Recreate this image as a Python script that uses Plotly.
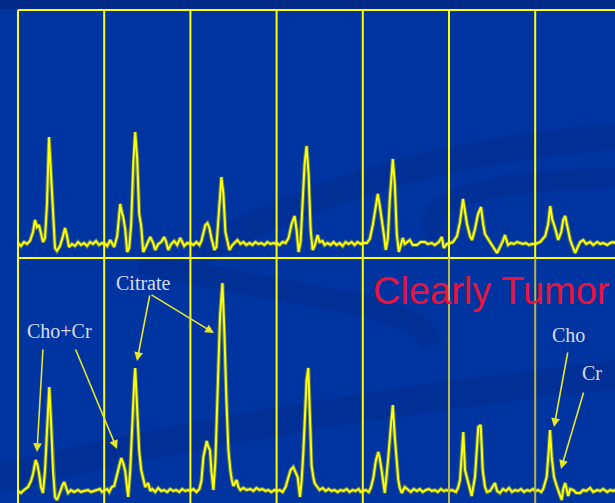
import plotly.graph_objects as go

# ---------------- data ----------------
# Each spectrum: (channel within voxel, amplitude above baseline)
TOP_C0 = [(0,1),(3,-2),(6,2),(9,0),(12,3),(15,12),(17,24),(19,17),(21,19),(23,9),(25,2),(27,6),(29,40),(31,107),(33,70),(35,25),(37,-4),(39,-7),(42,-2),(45,8),(47,16),(49,8),(51,-3),(54,0),(57,-2),(60,2),(63,-1),(66,1),(69,-2),(72,2),(75,0),(78,3),(81,-1),(84,1),(86,0)]
TOP_C1 = [(0,1),(3,-2),(6,4),(10,-3),(13,8),(16,40),(18,30),(19,28),(21,15),(23,-8),(25,-4),(27,20),(29,80),(31,112),(33,85),(35,30),(37,18),(39,-8),(42,-2),(46,7),(49,1),(51,-6),(54,0),(57,2),(60,7),(62,2),(64,-6),(67,0),(70,3),(73,-1),(76,6),(78,2),(80,-2),(83,1),(86,0)]
TOP_C2 = [(0,1),(3,-1),(6,2),(9,-1),(11,3),(13,10),(15,19),(17,21),(19,16),(21,6),(24,-6),(26,-3),(28,25),(30,60),(31,67),(33,50),(35,12),(37,3),(39,-6),(42,-1),(45,2),(47,4),(50,0),(53,2),(56,-1),(59,1),(62,-1),(65,2),(68,0),(71,1),(74,-1),(77,2),(80,0),(83,1),(86,0)]
TOP_C3 = [(0,1),(3,-1),(6,2),(9,1),(12,6),(15,20),(18,28),(20,14),(22,-8),(24,2),(26,40),(28,80),(30,98),(32,70),(34,15),(36,-6),(38,-2),(41,9),(43,2),(46,3),(48,-1),(51,1),(54,-1),(57,2),(60,-1),(63,1),(66,-2),(69,2),(72,0),(75,2),(78,-1),(81,2),(84,0),(86,1)]
TOP_C4 = [(0,1),(4,1),(7,5),(10,19),(13,40),(15,50),(17,38),(19,26),(21,10),(23,-6),(25,5),(27,45),(29,80),(30,85),(32,60),(34,10),(36,-8),(38,-2),(40,6),(42,0),(45,3),(47,4),(50,-1),(54,-1),(58,2),(62,2),(65,0),(69,1),(72,-1),(76,2),(79,7),(81,-4),(84,0),(86,1)]
TOP_C5 = [(0,0),(4,2),(8,8),(11,22),(14,45),(16,30),(18,20),(21,8),(23,4),(26,15),(29,30),(32,37),(34,20),(36,10),(39,5),(43,-1),(46,-6),(48,-9),(51,-3),(54,3),(56,9),(59,-1),(62,1),(65,0),(68,2),(71,1),(74,0),(77,1),(80,-1),(83,0),(86,0)]
TOP_C6 = [(0,0),(5,2),(10,8),(13,20),(15,38),(17,25),(20,16),(23,4),(26,12),(28,24),(30,28),(32,18),(35,4),(38,-4),(40,-9),(43,-2),(45,2),(48,4),(51,0),(55,2),(58,-1),(62,2),(65,0),(68,1),(72,-1),(75,1),(78,2),(82,0),(86,1)]

BOT_C0 = [(0,0),(3,-2),(6,1),(10,4),(13,10),(15,17),(17.7,31),(19.5,26),(21,18),(23,4),(25,-2),(27,20),(29,60),(31.3,104),(33,70),(35,20),(37,-6),(39,-9),(42,-1),(44,5),(46.3,9),(48,3),(50,-2),(53,1),(56,-1),(60,1),(63,-1),(66,0),(70,1),(73,-1),(76,0),(79,1),(82,2),(84,-1),(86,0)]
BOT_C1 = [(0,0),(3,2),(5,-1),(7.5,4),(10,5),(12.5,14),(15,25),(17,33),(19,28),(21,20),(23,2),(24,-6),(26,20),(28,70),(30,110),(31,123),(33,80),(35,40),(37,21),(39,12),(41,4),(44,8),(46,0),(48,2),(51,-1),(54,3),(57,0),(60,1),(63,-1),(66,2),(69,0),(72,1),(75,-1),(78,2),(81,0),(84,1),(86,0)]
BOT_C2 = [(0,0),(3,2),(6,-1),(9,2),(11,10),(13,34),(15,45),(16.3,50),(18,44),(19.6,41),(21,20),(23,1),(25,30),(27,100),(29.6,174),(32,208),(34,160),(36,90),(38,41),(40,20),(41.3,11),(43,5),(46.3,11),(48,4),(50,1),(53,3),(56,1),(60,2),(63,0),(66,3),(69,1),(72,2),(75,0),(78,1),(81,-1),(84,1),(86,0)]
BOT_C3 = [(0,0),(3,1),(6,-1),(9,4),(12,15),(14,21),(16.7,24),(19,18),(21,14),(23.4,-6),(25,10),(26.7,38),(29,90),(30,111),(31.7,123),(33.4,61),(35,25),(36.7,14),(38,8),(40,5),(43,1),(46,3),(49,0),(52,2),(55,0),(58,1),(61,-1),(64,1),(67,0),(70,2),(73,-1),(76,1),(79,0),(82,2),(84,-1),(86,0)]
BOT_C4 = [(0,0),(3,1),(6,-1),(8,3),(10.5,13),(13,30),(15.5,39),(17,33),(19,21),(21,5),(22,-2),(24,15),(25.5,34),(28,65),(30,86),(32,54),(34,25),(35.5,11),(37,3),(39,-2),(42,4),(45,1),(48,-1),(51,2),(54,0),(57,2),(60,-1),(63,1),(66,2),(69,0),(72,1),(75,-1),(78,2),(81,0),(84,1),(86,0)]
BOT_C5 = [(0,0),(3,1),(7,-1),(9,3),(11,11),(13,40),(14.3,59),(16,21),(19.3,8),(22.7,-5),(26,14),(28,45),(29.3,64),(31.7,66),(33.7,21),(36,4),(38,-1),(41,0),(43,3),(46,8),(48,0),(51,-2),(54,2),(57,0),(60,3),(63,-1),(66,1),(69,0),(72,2),(75,-1),(78,1),(81,0),(84,2),(86,0)]
BOT_C6 = [(0,0),(3,1),(6,-1),(8,2),(11.5,14),(13.5,40),(14.8,61),(16.5,34),(18.8,14),(21.5,5),(24,-3),(26.5,-9),(28,2),(30,8),(33,-5),(35,2),(38,1),(41,-2),(45,-2),(48,1),(51,0),(55,3),(58,-1),(62,1),(65,0),(68,2),(72,-1),(75,1),(78,0),(82,2),(86,0)]

TOP_ROW = [TOP_C0, TOP_C1, TOP_C2, TOP_C3, TOP_C4, TOP_C5, TOP_C6]
BOT_ROW = [BOT_C0, BOT_C1, BOT_C2, BOT_C3, BOT_C4, BOT_C5, BOT_C6]

LABELS = ["Citrate", "Cho+Cr", "Cho", "Cr"]
TITLE = "Clearly Tumor"

# ---------------- layout constants ----------------
W, H = 615, 503
CELL = 86.2          # voxel width in channels
X0 = 18              # left edge of grid (px)
TOP_Y, MID_Y = 10, 258
TOP_BASE, BOT_BASE = 244, 491
YEL = "#ffff00"
BG = "#0034a0"


def row_xy(row):
    xs, ys = [], []
    for i, cell in enumerate(row):
        for ch, a in cell:
            xs.append(i * CELL + ch)
            ys.append(a)
    return xs, ys


fig = go.Figure()
tx, ty = row_xy(TOP_ROW)
bx, by = row_xy(BOT_ROW)
for xs, ys, ax_ in [(tx, ty, "y"), (bx, by, "y2")]:
    # soft glow underneath
    fig.add_trace(go.Scatter(x=xs, y=ys, mode="lines", line=dict(color="rgba(255,255,0,0.35)", width=4),
                             yaxis=ax_, hoverinfo="skip"))
    fig.add_trace(go.Scatter(x=xs, y=ys, mode="lines", line=dict(color=YEL, width=2),
                             yaxis=ax_, hoverinfo="skip"))

py = lambda p: 1 - p / H      # pixel row -> paper y
px = lambda p: p / W          # pixel col -> paper x

shapes = []
# darker strip at top
shapes.append(dict(type="rect", xref="paper", yref="paper", x0=0, x1=1, y0=py(TOP_Y - 1), y1=1,
                   fillcolor="#002a88", line=dict(width=0), layer="below"))
# decorative swooshes
sw = "rgba(0,22,95,0.16)"
for path, wdt in [
    ("M 195 255 Q 380 150 640 135", 26),
    ("M 640 178 C 480 178 410 200 440 240", 20),
    ("M 140 262 C 300 300 420 300 432 345", 22),
    ("M -10 480 C 200 430 420 395 640 372", 28),
]:
    toks = path.split()
    out = []
    nums = []
    for t in toks:
        if t.isalpha():
            out.append(t)
        else:
            nums.append(float(t))
            if len(nums) == 2:
                out.append(f"{px(nums[0]):.4f},{py(nums[1]):.4f}")
                nums = []
    shapes.append(dict(type="path", xref="paper", yref="paper", path=" ".join(out),
                       line=dict(color=sw, width=wdt), layer="below"))

# grid: horizontal lines
for yy in (TOP_Y, MID_Y):
    shapes.append(dict(type="line", xref="x", yref="paper", x0=0, x1=W, y0=py(yy), y1=py(yy),
                       line=dict(color=YEL, width=2)))
# grid: vertical lines
for i in range(8):
    xv = i * CELL
    shapes.append(dict(type="line", xref="x", yref="paper", x0=xv, x1=xv, y0=py(MID_Y), y1=py(TOP_Y),
                       line=dict(color=YEL, width=2)))
    col = "#b8b84a" if i in (5, 6) else YEL
    shapes.append(dict(type="line", xref="x", yref="paper", x0=xv, x1=xv, y0=0, y1=py(MID_Y),
                       line=dict(color=col, width=2)))

ann = []
serif = dict(family="Liberation Serif, Times New Roman, serif", size=20, color="#d8dcf0")
for text, cx, cy in [(LABELS[0], 143, 283), (LABELS[1], 59, 331), (LABELS[2], 568, 335), (LABELS[3], 592, 373)]:
    ann.append(dict(text=text, x=px(cx), y=py(cy), xref="paper", yref="paper", showarrow=False,
                    xanchor="center", yanchor="middle", font=serif))
ann.append(dict(text=TITLE, x=px(491), y=py(291), xref="paper", yref="paper", showarrow=False,
                xanchor="center", yanchor="middle",
                font=dict(family="Liberation Sans, Arial, sans-serif", size=38, color="#e8143c")))
# arrows: (tail px, head px)
arrow_col = "#e6e62a"
for (tx0, ty0), (hx, hy) in [((150, 294), (137, 361)), ((150, 294), (214, 333)),
                             ((43, 348), (37, 452)), ((75, 348), (117, 449)),
                             ((568, 351), (554, 427)), ((584, 391), (561, 469))]:
    ann.append(dict(text="", x=px(hx), y=py(hy), xref="paper", yref="paper", showarrow=True,
                    ax=tx0 - hx, ay=ty0 - hy, arrowhead=2, arrowsize=1.1, arrowwidth=1.6,
                    arrowcolor=arrow_col))

fig.update_layout(
    width=W, height=H, margin=dict(l=0, r=0, t=0, b=0),
    paper_bgcolor=BG, plot_bgcolor=BG, showlegend=False,
    xaxis=dict(range=[-X0, W - X0], visible=False, fixedrange=True),
    yaxis=dict(domain=[py(MID_Y), py(TOP_Y)], range=[TOP_BASE - MID_Y, TOP_BASE - TOP_Y],
               visible=False, fixedrange=True),
    yaxis2=dict(domain=[0, py(MID_Y)], range=[BOT_BASE - H, BOT_BASE - MID_Y],
                visible=False, fixedrange=True),
    shapes=shapes, annotations=ann,
)
fig.write_html("out.html", config={"displayModeBar": False},
               post_script="document.body.style.margin='0';document.body.style.overflow='hidden';")
